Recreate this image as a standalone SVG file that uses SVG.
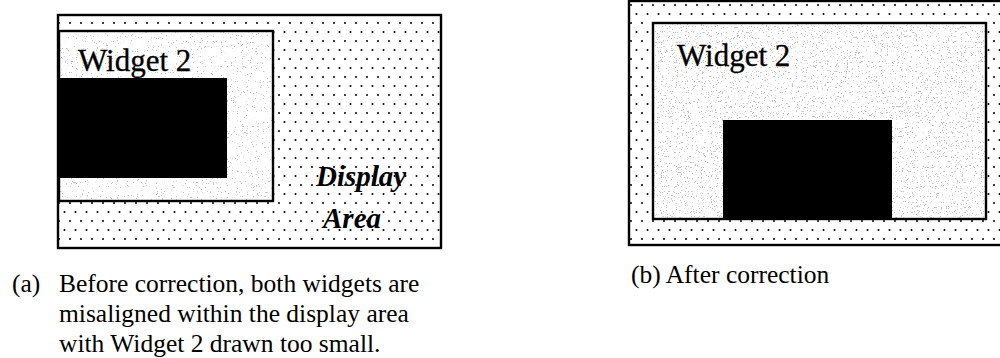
<svg xmlns="http://www.w3.org/2000/svg" width="1000" height="358" viewBox="0 0 1000 358">
  <style>
    .frame { fill: none; stroke: #000; stroke-width: 2.4; }
    .blk { fill: #000; }
    .lbl { font-family: "Liberation Serif", "Times New Roman", serif; fill: #000; }
    .wlbl { font-size: 31px; stroke: #000; stroke-width: 0.3; }
    .area { font-size: 29px; font-weight: bold; font-style: italic; }
    .cap { font-size: 25.5px; }
  </style>
  <defs>
    <pattern id="dots" width="11" height="18" patternUnits="userSpaceOnUse" x="2" y="3">
      <rect width="11" height="18" fill="#fff"/>
      <circle cx="2" cy="2" r="1" fill="#000"/>
      <circle cx="7.5" cy="11" r="1" fill="#000"/>
    </pattern>
    <filter id="speckle" x="0" y="0" width="1" height="1">
      <feTurbulence type="fractalNoise" baseFrequency="0.8" numOctaves="4" seed="7" result="n"/>
      <feColorMatrix in="n" type="matrix" values="0 0 0 0 0.55  0 0 0 0 0.55  0 0 0 0 0.55  14 0 0 0 -9.4" result="d"/>
      <feFlood flood-color="#fff" result="w"/>
      <feMerge><feMergeNode in="w"/><feMergeNode in="d"/></feMerge>
    </filter>
    <filter id="speckle2" x="0" y="0" width="1" height="1">
      <feTurbulence type="fractalNoise" baseFrequency="0.8" numOctaves="4" seed="11" result="n"/>
      <feColorMatrix in="n" type="matrix" values="0 0 0 0 0.55  0 0 0 0 0.55  0 0 0 0 0.55  14 0 0 0 -9.0" result="d"/>
      <feFlood flood-color="#fff" result="w"/>
      <feMerge><feMergeNode in="w"/><feMergeNode in="d"/></feMerge>
    </filter>
  </defs>

  <rect width="1000" height="358" fill="#fff"/>

  <!-- Panel (a) -->
  <g id="display-area-a">
    <rect x="58" y="15" width="383" height="233" fill="url(#dots)"/>
    <rect x="58" y="15" width="383" height="233" class="frame"/>
    <text class="lbl area" x="316" y="186">Display</text>
    <text class="lbl area" x="323" y="228">Area</text>
  </g>
  <g id="widget2-a">
    <rect x="59" y="31" width="214" height="170" fill="#fff" filter="url(#speckle)"/>
    <rect x="59" y="31" width="214" height="170" class="frame"/>
    <text class="lbl wlbl" x="78" y="71">Widget 2</text>
  </g>
  <g id="widget1-a">
    <rect x="59" y="78" width="168" height="100" class="blk"/>
  </g>

  <!-- Panel (b) -->
  <g id="display-area-b">
    <rect x="629" y="1" width="380" height="244" fill="url(#dots)"/>
    <rect x="629" y="1" width="380" height="244" class="frame"/>
  </g>
  <g id="widget2-b">
    <rect x="653" y="23" width="333" height="196" fill="#fff" filter="url(#speckle2)"/>
    <rect x="653" y="23" width="333" height="196" class="frame" stroke-width="2.8"/>
    <text class="lbl wlbl" x="677" y="66">Widget 2</text>
  </g>
  <g id="widget1-b">
    <rect x="723" y="120" width="169" height="99" class="blk"/>
  </g>

  <g id="connectors"/>

  <!-- Captions -->
  <g id="caption-a">
    <text class="lbl cap" x="12" y="292">(a)</text>
    <text class="lbl cap" x="59" y="292">Before correction, both widgets are</text>
    <text class="lbl cap" x="59" y="322">misaligned within the display area</text>
    <text class="lbl cap" x="59" y="352">with Widget 2 drawn too small.</text>
  </g>
  <g id="caption-b">
    <text class="lbl cap" x="631" y="283">(b) After correction</text>
  </g>
</svg>
